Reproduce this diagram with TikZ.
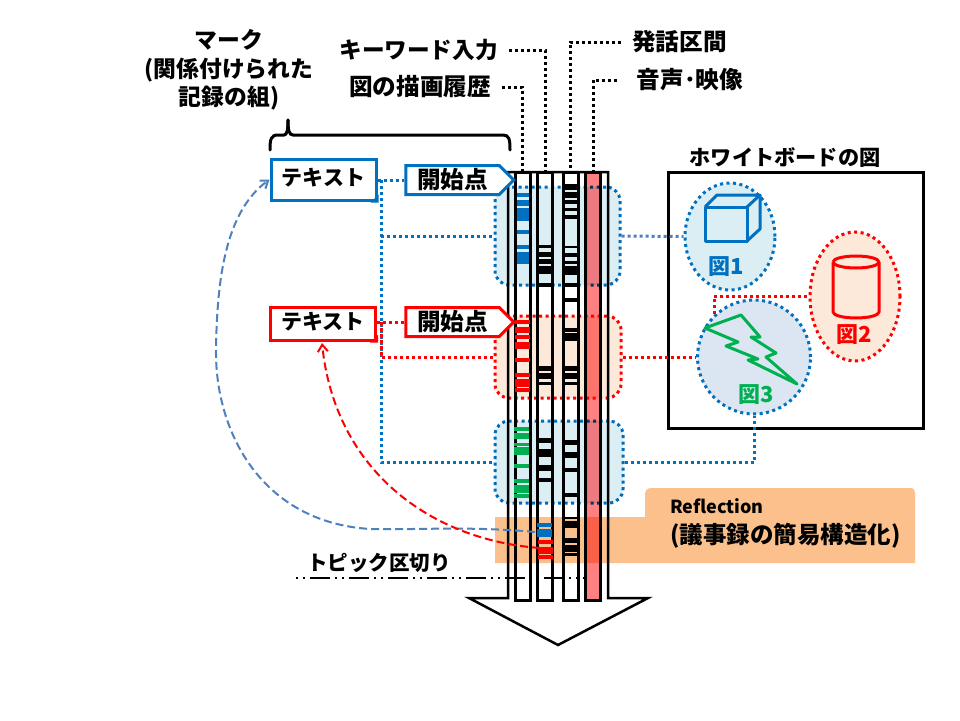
\documentclass[tikz,border=0pt]{standalone}
\usepackage{fontspec}
\setmainfont{Noto Sans CJK JP}
\usepackage{tikz}
\usetikzlibrary{arrows.meta, positioning, shapes.geometric, shapes.symbols}
\definecolor{markblue}{RGB}{0,112,192}
\definecolor{markred}{RGB}{255,0,0}
\definecolor{markgreen}{RGB}{0,176,80}
\definecolor{curveblue}{RGB}{79,129,189}
\definecolor{areablue}{RGB}{219,238,244}
\definecolor{areared}{RGB}{253,233,217}
\definecolor{areasteel}{RGB}{220,230,242}
\definecolor{bandorange}{RGB}{251,192,140}
\definecolor{voicepink}{RGB}{255,128,128}
\definecolor{voiceblue}{RGB}{236,122,128}

\begin{document}
\begin{tikzpicture}[
        x=1pt, y=-1pt,
        lbl/.style={font=\fontsize{23.6}{28.5}\selectfont\bfseries, inner sep=0pt},
        figlbl/.style={font=\fontsize{22}{24}\selectfont\bfseries, inner sep=0pt},
        notebox/.style={draw, line width=3pt, fill=white, minimum width=105pt, inner sep=0pt, font=\fontsize{21}{24}\selectfont\bfseries},
        startbox/.style={signal, signal to=east, signal pointer angle=90, draw, line width=3pt, fill=white, minimum width=108pt, minimum height=29pt, inner sep=0pt, font=\fontsize{23.6}{24}\selectfont\bfseries},
        colbox/.style={draw, line width=3pt, minimum width=15pt, minimum height=428pt, inner sep=0pt},
        areabox/.style={draw, rounded corners=14pt, line width=3pt, dash pattern=on 3pt off 3.5pt, blend mode=multiply, inner sep=0pt},
        figbox/.style={ellipse, draw, line width=3pt, dash pattern=on 3pt off 3.5pt, inner sep=0pt},
        dotline/.style={line width=3pt, dash pattern=on 3pt off 3pt},
        curve/.style={-{Straight Barb[length=7pt,width=10pt]}, line width=2pt, dash pattern=on 8pt off 4pt},
        shapeline/.style={line width=3pt, line join=round}
    ]
        \useasboundingbox (0,0) rectangle (960,720);
        \fill[white] (0,0) rectangle (960,720);

        % Big arrow behind the columns
        \draw[line width=2.5pt, fill=white, line join=miter] (508,172) -- (608,172) -- (608,598) -- (648,598) -- (558,645) -- (469,598) -- (508,598) -- cycle;

        % Columns
        \node[colbox, fill=white] (colone) at (522.5,386) {};
        \node[colbox, fill=white] (coltwo) at (545,386) {};
        \node[colbox, fill=white] (colthree) at (570.5,386) {};
        \node[colbox, fill=voicepink] (colfour) at (593,386) {};

        % Top labels
        \node[lbl, font=\fontsize{22.6}{28.5}\selectfont\bfseries] (keylabel) at (418.5,50) {キーワード入力};
        \node[lbl] (drawlabel) at (420,87) {図の描画履歴};
        \node[lbl] (speechlabel) at (679.5,42) {発話区間};
        \node[lbl] (medialabel) at (690,80) {音声･映像};
        \node[lbl, font=\fontsize{22.8}{28.5}\selectfont\bfseries, align=center] (marklabel) at (229,70) {マーク\\(関係付けられた\\記録の組)};

        \draw[dotline] ([xshift=11pt]keylabel.east) -| (coltwo.north);
        \draw[dotline] ([xshift=11pt]drawlabel.east) -| (colone.north);
        \draw[dotline] ([xshift=-11pt]speechlabel.west) -| (colthree.north);
        \draw[dotline] ([xshift=-20pt]medialabel.west) -| (colfour.north);

        % Brace under the mark label
        \draw[line width=3pt, line cap=round] (270,150) .. controls (270,139) and (271,135) .. (278,135) -- (284,135) .. controls (287,135) and (288,130) .. (288,120);
        \draw[line width=3pt, line cap=round] (288,120) .. controls (288,130) and (289,135) .. (293,135) -- (503,135) .. controls (509,135) and (510,139) .. (510,150);

        % Areas over the columns
        \node[areabox, draw=markblue, fill=areablue, minimum width=125pt, minimum height=98pt] (areaone) at (557.5,236) {};
        \node[areabox, draw=markred, fill=areared, minimum width=126pt, minimum height=82pt] (areatwo) at (558,357) {};
        \node[areabox, draw=markblue, fill=areablue, minimum width=128pt, minimum height=82pt] (areathree) at (559,462) {};
        \fill[voiceblue] (587.5,189) rectangle (598.5,283);
        \fill[voiceblue] (587.5,423) rectangle (598.5,501);

        % Reflection band
        \path[fill=bandorange, blend mode=multiply] (495,517) -- (645,517) -- (645,495) .. controls (645,490) and (647,488) .. (652,488) -- (910,488) .. controls (914,488) and (915,490) .. (915,493) -- (915,563) -- (495,563) -- cycle;
        \node[font=\fontsize{18}{20}\selectfont\bfseries, inner sep=0pt, anchor=west] (refltitle) at (670,506) {Reflection};
        \node[font=\fontsize{23.5}{24}\selectfont\bfseries, inner sep=0pt, anchor=west] (reflnote) at (670,536) {(議事録の簡易構造化)};

        % Topic boundary
        \node[font=\fontsize{20.5}{24}\selectfont\bfseries, inner sep=0pt] (topic) at (379,563) {トピック区切り};
        \coordinate (topicleft) at (296,578);
        \coordinate (topicright) at (585,578);
        \draw[line width=2pt, dash pattern=on 2pt off 5pt on 2pt off 5pt on 20pt off 5pt] (topicleft) -- (topicright);

        % Marks in the columns
        \foreach \top/\bot in {193/197, 200/206, 208/221, 230/234, 245/249, 252/264}
            \fill[markblue] (517,\top) rectangle (529,\bot);
        \foreach \top/\bot in {320/324, 327/333, 335/339, 342/349, 358/362, 373/377, 379/387, 388/392}
            \fill[markred] (515,\top) rectangle (530,\bot);
        \foreach \top/\bot in {427/431, 433/439, 443/446, 447/455, 464/468, 479/483, 485/493, 494/498}
            \fill[markgreen] (514,\top) rectangle (529,\bot);
        \foreach \top/\bot in {245/248, 252/257, 259/264, 266/274, 283/287, 366/371, 373/379, 382/385, 438/443, 449/457, 465/471, 478/482}
            \fill[black] (537,\top) rectangle (553,\bot);
        \foreach \top/\bot in {184/190, 192/198, 200/204, 208/211, 215/219, 246/248, 253/257, 261/264, 266/275, 283/287, 298/302, 328/332, 333/341, 366/371, 373/379, 382/385, 440/445, 452/458, 468/472, 493/497, 517/519, 521/528, 538/543, 545/552, 553/556}
            \fill[black] (563,\top) rectangle (578,\bot);
        \foreach \top/\bot in {523/527, 529/537}
            \fill[markblue] (537,\top) rectangle (552,\bot);
        \foreach \top/\bot in {540/544, 547/554, 555/559}
            \fill[markred] (538,\top) rectangle (553,\bot);

        % Whiteboard
        \node[draw, line width=3pt, minimum width=255pt, minimum height=256pt, inner sep=0pt] (board) at (795.5,300) {};
        \node[lbl, font=\fontsize{21.2}{24}\selectfont\bfseries] (boardlabel) at (785,157) {ホワイトボードの図};

        \node[figbox, color=markblue, fill=areablue, minimum width=90pt, minimum height=107pt] (figone) at (730,236.5) {};
        \node[figbox, color=markred, fill=areared, minimum width=90pt, minimum height=129pt] (figtwo) at (855,296.5) {};
        \node[figbox, color=markblue, fill=areasteel, minimum width=113pt, minimum height=114pt] (figthree) at (754,357) {};
        \node[figlbl, text=markblue] (figonelabel) at (726,267) {図1};
        \node[figlbl, text=markred] (figtwolabel) at (854,335) {図2};
        \node[figlbl, text=markgreen] (figthreelabel) at (756,395) {図3};

        % Cube
        \draw[shapeline, markblue] (705,207) rectangle (747,241);
        \draw[shapeline, markblue] (705,207) -- (717,195) -- (760,195) -- (747,207);
        \draw[shapeline, markblue] (760,195) -- (760,229) -- (747,241);
        % Cylinder
        \draw[shapeline, markred] (833,262) arc[start angle=180, end angle=-180, x radius=23, y radius=6];
        \draw[shapeline, markred] (833,262) -- (833,312) arc[start angle=180, end angle=360, x radius=23, y radius=-6] -- (879,262);
        % Bolt
        \draw[shapeline, markgreen] (705,328) -- (741,315) -- (760,337) -- (751,337) -- (776,353) -- (766,357) -- (797,384) -- (748,360) -- (758,359) -- (726,346) -- (738,342) -- cycle;

        % Text boxes
        \node[notebox, draw=markblue, minimum height=41pt] (textblue) at (323.5,179.5) {\raisebox{5pt}{テキスト}};
        \node[notebox, draw=markred, minimum height=33pt] (textred) at (323,323.5) {\raisebox{5pt}{テキスト}};
        \fill[markblue] ([xshift=1pt,yshift=-1pt]textblue.south east) -- ++(-8,0) -- ++(8,-8) -- cycle;
        \fill[markred] ([xshift=1pt,yshift=-1pt]textred.south east) -- ++(-8,0) -- ++(8,-8) -- cycle;

        % Start points
        \node[startbox, draw=markblue] (startblue) at (452.5,180) {開始点};
        \node[startbox, draw=markred] (startred) at (452.5,322) {開始点};

        % Dotted links
        \coordinate (bluejoin) at (381,180);
        \coordinate (redjoin) at (381,322);
        \draw[dotline, markblue] (textblue.east |- bluejoin) -- (startblue.west);
        \draw[dotline, markblue] (bluejoin) |- (areathree.west);
        \draw[dotline, markblue] (bluejoin |- areaone.west) -- (areaone.west);
        \draw[dotline, markred] (textred.east |- redjoin) -- (startred.west);
        \draw[dotline, markred] (redjoin) |- (areatwo.west);
        \draw[dotline, curveblue] (areaone.east) -- (figone.west);
        \draw[dotline, markred] (areatwo.east) -- (figthree.west);
        \draw[dotline, markblue] (areathree.east) -| (figthree.south);
        \draw[dotline, markred] (figthree.133) |- (figtwo.west);

        % Curves back to the text boxes
        \coordinate (bluefrom) at (535,532);
        \coordinate (redfrom) at (540,548);
        \draw[curve, curveblue] (bluefrom) .. controls (470,526) and (420,530) .. (370,529) .. controls (260,522) and (215,430) .. (216,350) .. controls (217,280) and (225,212) .. (textblue.west);
        \draw[curve, markred] (redfrom) .. controls (430,540) and (335,470) .. (322,343);
    \end{tikzpicture}
\end{document}
